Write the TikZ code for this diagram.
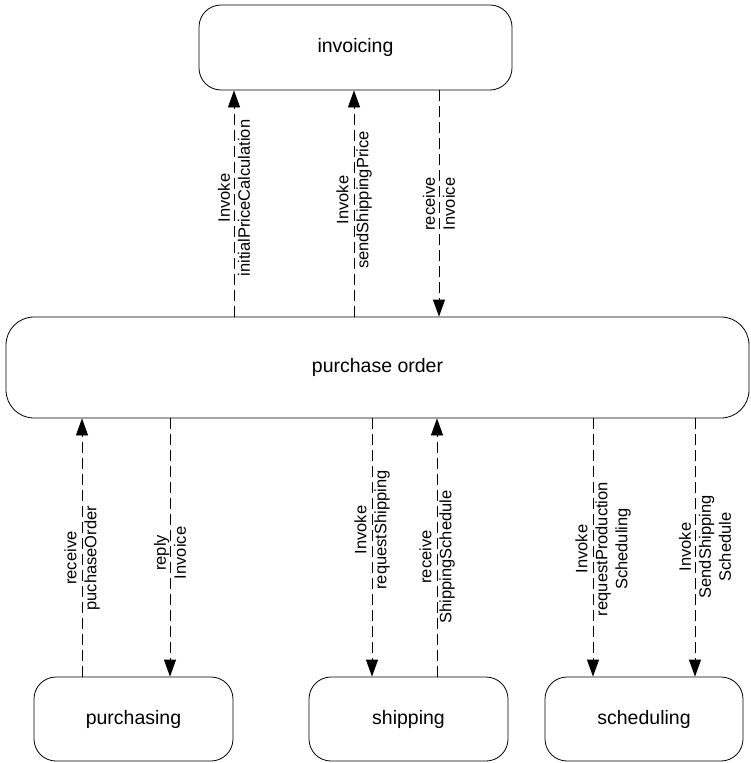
\documentclass[tikz,border=0pt]{standalone}
\usepackage{fontspec}
\setmainfont{Liberation Sans}
\usetikzlibrary{arrows.meta, positioning, calc}

\tikzset{
  proc/.style={draw, line width=0.8pt, rounded corners=22pt, inner sep=0pt,
    font=\fontsize{19.5}{23}\selectfont},
  msg/.style={draw, line width=0.8pt, dash pattern=on 11pt off 5pt,
    -{Triangle[length=17pt,width=12pt]}},
  lbl/.style={rotate=90, align=center, inner sep=0pt,
    font=\fontsize{16.5}{20}\selectfont}
}

\begin{document}
\begin{tikzpicture}[x=1pt, y=-1pt]
  \useasboundingbox (0,0) rectangle (750,763);
  % processes
  \node[proc, minimum width=313pt, minimum height=85pt] (inv) at (355.5,47.5) {invoicing};
  \node[proc, rounded corners=28pt, minimum width=743pt, minimum height=101pt]
    (po) at (377.5,367.5) {purchase order};
  \node[proc, minimum width=199pt, minimum height=84pt] (pur) at (133.5,719) {purchasing};
  \node[proc, minimum width=199pt, minimum height=84pt] (ship) at (408.5,719) {shipping};
  \node[proc, minimum width=198pt, minimum height=84pt] (sched) at (644,719) {scheduling};
  % messages to and from invoicing
  \draw[msg] (po.north -| 234,0) -- (inv.south -| 234,0)
    node[lbl, pos=0.524] {Invoke\\initialPriceCalculation};
  \draw[msg] (po.north -| 354,0) -- (inv.south -| 354,0)
    node[lbl, pos=0.515] {Invoke\\sendShippingPrice};
  \draw[msg] (inv.south -| 439,0) -- (po.north -| 439,0)
    node[lbl, pos=0.502] {receive\\Invoice};
  % purchasing
  \draw[msg] (pur.north -| 82,0) -- (po.south -| 82,0)
    node[lbl, pos=0.459] {receive\\puchaseOrder};
  \draw[msg] (po.south -| 170,0) -- (pur.north -| 170,0)
    node[lbl, pos=0.521] {reply\\Invoice};
  % shipping
  \draw[msg] (po.south -| 372,0) -- (ship.north -| 372,0)
    node[lbl, pos=0.432] {Invoke\\requestShipping};
  \draw[msg] (ship.north -| 437,0) -- (po.south -| 437,0)
    node[lbl, pos=0.463] {receive\\ShippingSchedule};
  % scheduling
  \draw[msg] (po.south -| 593,0) -- (sched.north -| 593,0)
    node[xshift=10pt, lbl, pos=0.506] {Invoke\\requestProduction\\Scheduling};
  \draw[msg] (po.south -| 695,0) -- (sched.north -| 695,0)
    node[xshift=10pt, lbl, pos=0.498] {Invoke\\SendShipping\\Schedule};
\end{tikzpicture}
\end{document}
